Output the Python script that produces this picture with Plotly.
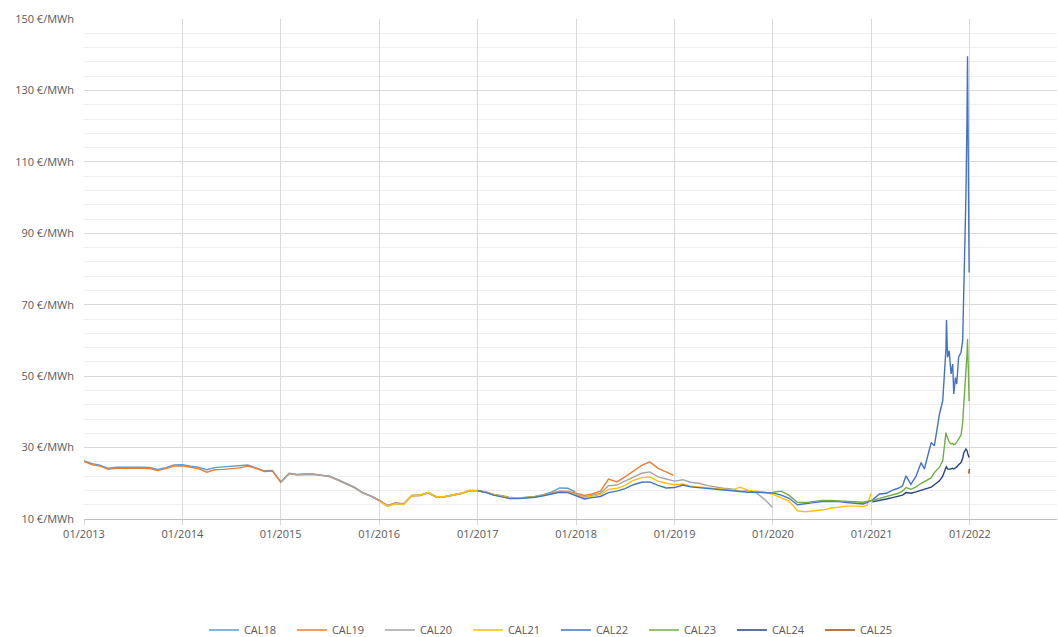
import pandas as pd
import plotly.graph_objects as go

# monthly settlement prices (first of month), €/MWh
cal18_start = "2013-01-01"
cal18 = [26.3, 25.5, 25.1, 24.2, 24.5, 24.6, 24.5, 24.5, 24.4, 23.9, 24.4, 25.1,
         25.2, 24.8, 24.5, 23.8, 24.4, 24.6, 24.7, 25.0, 25.1, 24.3, 23.5, 23.6,
         20.4, 22.8, 22.5, 22.6, 22.6, 22.3, 22.0, 21.0, 19.9, 18.9, 17.4, 16.5,
         15.3, 13.8, 14.5, 14.3, 16.6, 16.7, 17.4, 16.2, 16.3, 16.8, 17.2, 18.0,
         18.0, 17.6, 16.9, 16.5, 16.0, 15.9, 16.0, 16.3, 16.8, 17.5, 18.7, 18.6]
cal18_tail_dates = ["2017-12-29"]
cal18_tail = [17.6]

cal19_start = "2013-01-01"
cal19 = [26.1, 25.2, 24.8, 23.9, 24.2, 24.3, 24.2, 24.2, 24.1, 23.6, 24.1, 24.8,
         24.9, 24.5, 24.1, 23.1, 23.8, 23.9, 24.0, 24.3, 24.8, 24.2, 23.3, 23.4,
         20.3, 22.7, 22.4, 22.5, 22.5, 22.2, 21.9, 20.9, 19.8, 18.8, 17.3, 16.4,
         15.2, 13.7, 14.4, 14.2, 16.5, 16.6, 17.3, 16.1, 16.2, 16.7, 17.1, 17.9,
         17.9, 17.5, 16.8, 16.4, 15.9, 15.8, 15.9, 16.2, 16.7, 17.2, 17.8, 17.8,
         17.1, 16.6, 17.0, 17.8, 21.2, 20.4, 21.8, 23.5, 25.0, 26.0, 24.2, 23.2]
cal19_tail_dates = ["2018-12-28"]
cal19_tail = [22.2]

cal20_start = "2015-01-01"
cal20 = [20.3, 22.7, 22.4, 22.5, 22.5, 22.2, 21.9, 20.9, 19.8, 18.8, 17.3, 16.4,
         15.1, 13.6, 14.3, 14.1, 16.5, 16.6, 17.3, 16.1, 16.2, 16.7, 17.1, 17.9,
         17.9, 17.5, 16.8, 16.4, 15.9, 15.8, 15.9, 16.2, 16.7, 17.2, 17.7, 17.6,
         16.8, 16.2, 16.6, 17.2, 19.3, 19.5, 20.6, 21.8, 22.8, 23.2, 21.8, 21.2,
         20.6, 21.0, 20.3, 20.0, 19.4, 19.0, 18.6, 18.4, 17.7, 18.0, 17.3, 15.5]
cal20_tail_dates = ["2019-12-30"]
cal20_tail = [13.3]

cal21_start = "2016-01-01"
cal21 = [15.1, 13.6, 14.3, 14.1, 16.6, 16.7, 17.4, 16.2, 16.3, 16.8, 17.2, 18.0,
         17.9, 17.5, 16.8, 16.3, 15.8, 15.8, 15.9, 16.2, 16.6, 17.1, 17.6, 17.5,
         16.6, 16.0, 16.3, 16.8, 18.3, 18.6, 19.4, 20.8, 21.6, 21.8, 20.6, 20.0,
         19.6, 19.8, 19.2, 19.0, 18.6, 18.4, 18.2, 18.1, 18.9, 18.0, 17.8, 17.5,
         16.9, 16.0, 15.0, 12.3, 12.0, 12.3, 12.5, 13.0, 13.3, 13.6, 13.6, 13.5]
cal21_tail_dates = ["2020-12-15", "2020-12-30"]
cal21_tail = [13.8, 17.1]

cal22_start = "2017-01-01"
cal22 = [17.9, 17.4, 16.7, 16.2, 15.7, 15.7, 15.8, 16.1, 16.5, 17.0, 17.5, 17.4,
         16.4, 15.6, 16.0, 16.3, 17.4, 17.8, 18.5, 19.6, 20.3, 20.4, 19.4, 18.7,
         18.8, 19.5, 19.0, 18.8, 18.4, 18.3, 18.2, 17.9, 17.8, 17.5, 17.5, 17.4,
         17.3, 16.7, 15.8, 14.0, 14.2, 14.6, 14.9, 14.9, 14.9, 14.6, 14.4, 14.2]

cal23_start = "2020-01-01"
cal23 = [17.5, 17.8, 16.6, 14.7, 14.6, 15.0, 15.2, 15.2, 15.1, 15.0, 14.8, 14.7]

# 2021: finer sampling for the run-up at the end of the year
dates_2021 = ["2021-01-04", "2021-01-30", "2021-02-25", "2021-03-20", "2021-04-10",
              "2021-04-26", "2021-05-09", "2021-05-27", "2021-06-15", "2021-07-04",
              "2021-07-16", "2021-08-10", "2021-08-22", "2021-09-10", "2021-09-22",
              "2021-09-28", "2021-10-04", "2021-10-06", "2021-10-10", "2021-10-16",
              "2021-10-23", "2021-10-29", "2021-11-02", "2021-11-08", "2021-11-13",
              "2021-11-20", "2021-11-29", "2021-12-05", "2021-12-09", "2021-12-17",
              "2021-12-21", "2021-12-23", "2021-12-29"]
cal22_2021 = [15.3, 17.0, 17.2, 18.1, 18.6, 19.3, 22.1, 19.7, 22.0, 25.8,
              24.0, 31.4, 30.5, 39.4, 43.1, 49.6, 57.6, 65.7, 55.3, 57.1,
              50.6, 53.4, 45.0, 49.6, 47.8, 55.3, 56.7, 60.0, 73.0, 100.0,
              122.0, 139.6, 79.0]
cal23_2021 = [15.2, 15.8, 16.3, 16.9, 17.2, 17.8, 18.8, 18.3, 19.0, 20.0,
              20.5, 21.5, 23.0, 24.5, 26.3, 30.0, 34.2, 33.5, 32.8, 31.5,
              31.0, 31.2, 30.8, 31.0, 31.5, 32.4, 33.5, 37.0, 41.0, 51.5,
              56.0, 60.4, 43.0]
cal24_2021 = [14.8, 15.3, 15.6, 16.0, 16.3, 16.7, 17.4, 17.2, 17.6, 18.0,
              18.3, 18.9, 19.6, 20.7, 22.0, 23.5, 24.4, 24.6, 24.0, 23.9,
              24.0, 24.2, 24.0, 24.3, 24.6, 25.2, 25.8, 27.0, 28.5, 29.6,
              29.2, 28.5, 27.2]

cal25_dates = ["2021-12-28", "2021-12-30"]
cal25 = [22.7, 24.0]

names = ["CAL18", "CAL19", "CAL20", "CAL21", "CAL22", "CAL23", "CAL24", "CAL25"]
colors = ["#5B9BD5", "#ED7D31", "#A5A5A5", "#FFC000", "#4472C4", "#70AD47", "#264478", "#9E480E"]


def monthly(start, values):
    return list(pd.date_range(start, periods=len(values), freq="MS"))


series = [
    (monthly(cal18_start, cal18) + list(pd.to_datetime(cal18_tail_dates)), cal18 + cal18_tail),
    (monthly(cal19_start, cal19) + list(pd.to_datetime(cal19_tail_dates)), cal19 + cal19_tail),
    (monthly(cal20_start, cal20) + list(pd.to_datetime(cal20_tail_dates)), cal20 + cal20_tail),
    (monthly(cal21_start, cal21) + list(pd.to_datetime(cal21_tail_dates)), cal21 + cal21_tail),
    (monthly(cal22_start, cal22) + list(pd.to_datetime(dates_2021)), cal22 + cal22_2021),
    (monthly(cal23_start, cal23) + list(pd.to_datetime(dates_2021)), cal23 + cal23_2021),
    (list(pd.to_datetime(dates_2021)), cal24_2021),
    (list(pd.to_datetime(cal25_dates)), cal25),
]

fig = go.Figure()
for name, color, (x, y) in zip(names, colors, series):
    fig.add_trace(go.Scatter(x=x, y=y, mode="lines", name=name,
                             line=dict(color=color, width=1.4)))

font = dict(family="Open Sans", size=11, color="#595959")

fig.update_layout(
    width=1058, height=645,
    margin=dict(l=84, r=1, t=19, b=116),
    paper_bgcolor="white", plot_bgcolor="white",
    font=font,
    showlegend=True,
    legend=dict(orientation="h", x=0.485, xanchor="center", y=-0.222, yanchor="middle",
                font=dict(family="Open Sans", size=11, color="#595959"),
                entrywidth=43),
    hovermode="x",
)
fig.update_xaxes(
    type="date", range=["2013-01-01", "2022-11-20"],
    tickformat="%m/%Y", dtick="M12", tick0="2013-01-01",
    showgrid=True, gridcolor="#d9d9d9", gridwidth=1,
    showline=True, linecolor="#bfbfbf", linewidth=1,
    ticks="outside", ticklen=5, tickcolor="#d9d9d9",
    zeroline=False, tickfont=font, automargin=False,
)
fig.update_yaxes(
    range=[10, 150], tick0=10, dtick=20,
    ticksuffix=" €/MWh",
    showgrid=True, gridcolor="#d9d9d9", gridwidth=1,
    minor=dict(tick0=10, dtick=4, showgrid=True, gridcolor="#efefef", gridwidth=1),
    showline=False, zeroline=False, tickfont=font, ticks="",
    ticklabelstandoff=9, automargin=False,
)

# keep the page exactly the size of the figure (no default body margin, no overflow)
page_fix = ("document.documentElement.style.overflow='hidden';"
            "document.body.style.margin='0';"
            "document.body.style.overflow='hidden';")
fig.write_html("out.html", post_script=page_fix, config={"displayModeBar": False})
